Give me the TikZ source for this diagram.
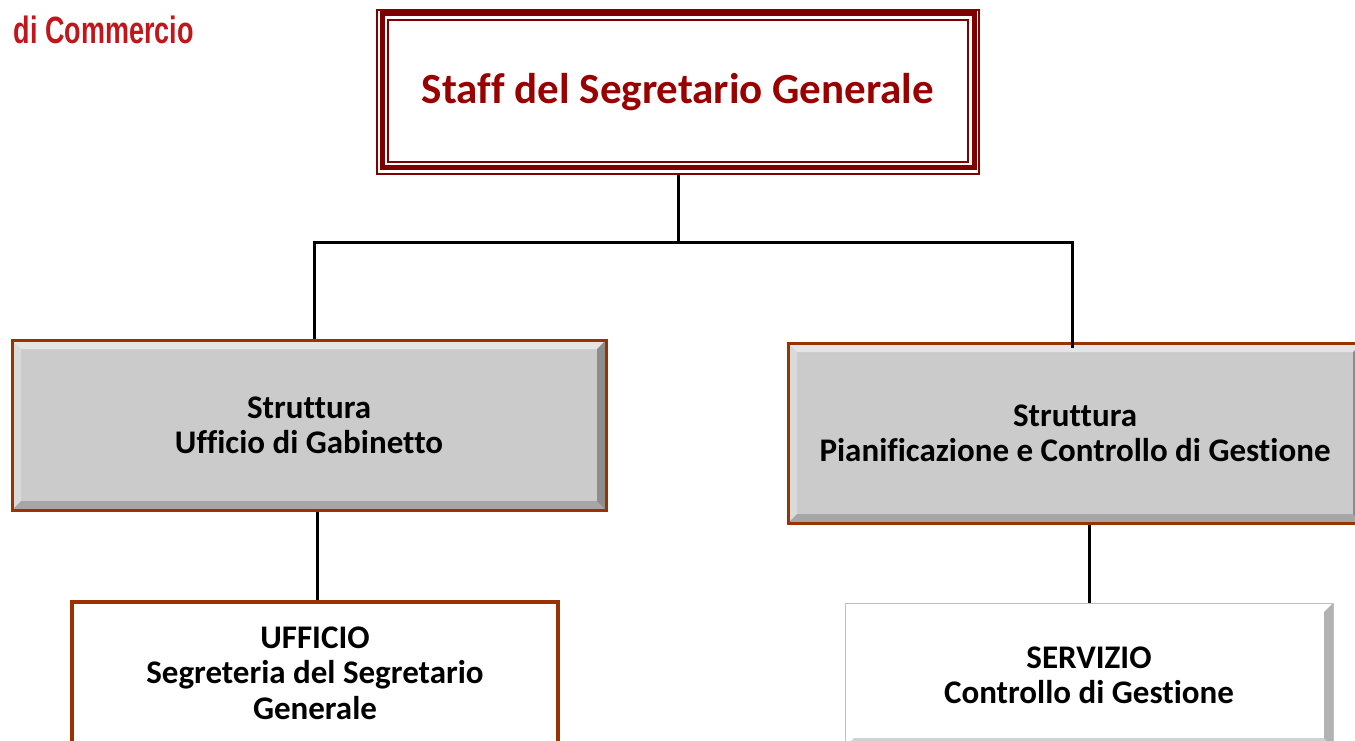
\documentclass[tikz,border=0pt]{standalone}
\usepackage{fontspec}
\setmainfont{Carlito}[Ligatures=NoCommon]
\newfontfamily\logofont{Liberation Sans}
\definecolor{frame}{RGB}{128,0,0}
\definecolor{titlered}{RGB}{153,0,0}
\definecolor{brownb}{RGB}{153,51,0}
\definecolor{boxgray}{RGB}{203,203,203}
\definecolor{logored}{RGB}{192,22,28}
\tikzset{
  bevel/.style={path picture={
    \fill[white,opacity=.5] (path picture bounding box.north west) -- (path picture bounding box.north east)
      -- ([xshift=-#1,yshift=-#1]path picture bounding box.north east) -- ([xshift=#1,yshift=-#1]path picture bounding box.north west) -- cycle;
    \fill[white,opacity=.3] (path picture bounding box.north west) -- ([xshift=#1,yshift=-#1]path picture bounding box.north west)
      -- ([xshift=#1,yshift=#1]path picture bounding box.south west) -- (path picture bounding box.south west) -- cycle;
    \fill[black,opacity=.3] (path picture bounding box.north east) -- (path picture bounding box.south east)
      -- ([xshift=-#1,yshift=#1]path picture bounding box.south east) -- ([xshift=-#1,yshift=-#1]path picture bounding box.north east) -- cycle;
    \fill[black,opacity=.18] (path picture bounding box.south west) -- (path picture bounding box.south east)
      -- ([xshift=-#1,yshift=#1]path picture bounding box.south east) -- ([xshift=#1,yshift=#1]path picture bounding box.south west) -- cycle;
  }},
  graybox/.style={draw=brownb, line width=3pt, fill=boxgray, bevel=9pt, align=center,
    font=\fontsize{33}{35}\selectfont\bfseries, inner sep=0pt},
  whitebox/.style={draw=brownb, line width=4pt, fill=white, align=center,
    font=\fontsize{33}{35.5}\selectfont\bfseries, inner sep=0pt},
  greybevelbox/.style={draw=gray!50, line width=1pt, fill=white, bevel=9pt, align=center,
    font=\fontsize{33}{35}\selectfont\bfseries, inner sep=0pt},
  conn/.style={line width=3pt, black},
}
\begin{document}
\begin{tikzpicture}[x=1pt,y=-1pt]
\useasboundingbox (0,0) rectangle (1355,741);
\begin{scope}
\clip (0,0) rectangle (1355,741);
% logo fragment
\node[anchor=east, inner sep=0pt, text=logored, xscale=0.71, transform shape,
  font=\logofont\fontsize{38}{38}\selectfont\bfseries] (logo) at (194,30) {di Commercio};
% top box
\node[draw=frame, line width=2pt, minimum width=602pt, minimum height=164pt, inner sep=0pt,
  text=titlered, font=\fontsize{43}{50}\selectfont\bfseries] (top) at (678,92) {Staff del Segretario Generale};
\draw[frame, line width=5pt] (382,14) rectangle (974,168);
\draw[frame, line width=2pt] (388,20) rectangle (968,162);
% level 2
\node[graybox, minimum width=594pt, minimum height=170pt] (sl) at (309,425) {Struttura\\Ufficio di Gabinetto};
\node[graybox, minimum width=574pt, minimum height=180pt] (sr) at (1075,433) {Struttura\\Pianificazione e Controllo di Gestione};
% level 3
\node[whitebox, minimum width=486pt, minimum height=142pt] (ul) at (315,673) {UFFICIO\\Segreteria del Segretario\\Generale};
\node[greybevelbox, minimum width=488pt, minimum height=144pt] (ur) at (1089,675) {SERVIZIO\\Controllo di Gestione};
% connectors
\coordinate (jl) at (314,242);
\coordinate (jr) at (1072,242);
\draw[conn] (top.south) -- (top.south |- jl);
\draw[conn] ([xshift=-1.5pt]jl) -- ([xshift=1.5pt]jr);
\draw[conn] (jl) -- (jl |- sl.north);
\draw[conn] (jr) -- ([yshift=-6pt]jr |- sr.north);
\coordinate (cl) at (317,0);
\draw[conn] (cl |- sl.south) -- (cl |- ul.north);
\draw[conn] (sr.south -| ur.north) -- (ur.north);
\end{scope}
\end{tikzpicture}
\end{document}
